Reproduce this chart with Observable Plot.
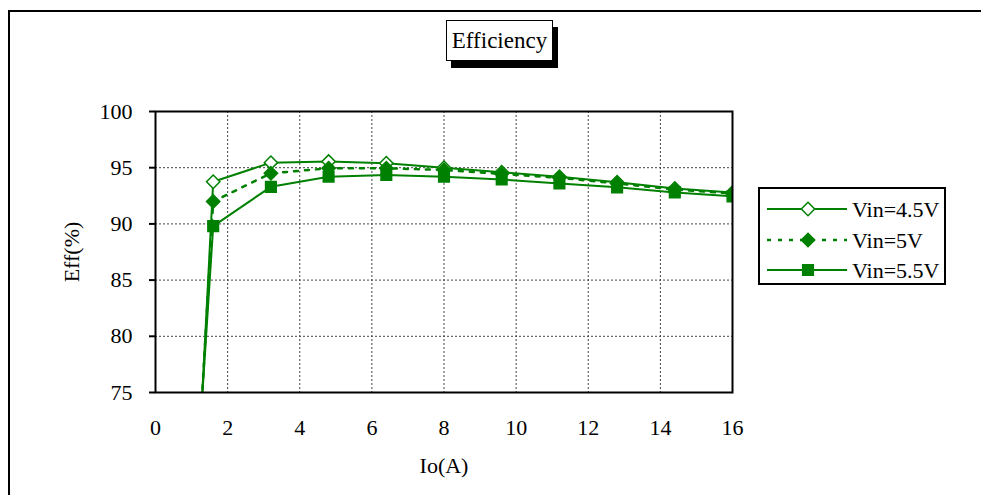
<!DOCTYPE html>
<html><head><meta charset="utf-8">
<script src="https://cdn.jsdelivr.net/npm/d3@7"></script>
<script src="https://cdn.jsdelivr.net/npm/@observablehq/plot@0.6"></script>
<style>
body{margin:0;background:#fff;}
#wrap{position:relative;width:981px;height:495px;overflow:hidden;font-family:"Liberation Serif","DejaVu Serif",serif;}
#border{position:absolute;left:8px;top:10px;width:1100px;height:700px;border:2px solid #000;box-sizing:border-box;}
#chart{position:absolute;left:0;top:0;}
#title{position:absolute;left:446px;top:20px;width:107px;height:41px;box-sizing:border-box;border:1.5px solid #000;background:#fff;box-shadow:5px 7px 0 #000;font-size:23px;text-align:center;line-height:39px;}
#legend{position:absolute;left:758px;top:187px;}
</style></head><body>
<div id="wrap"><div id="border"></div><div id="chart"></div><div id="title">Efficiency</div><svg id="legend" width="188" height="98"></svg></div>
<script>
const ioA = [0.8, 1.6, 3.2, 4.8, 6.4, 8.0, 9.6, 11.2, 12.8, 14.4, 16.0];
const eff45 = [44, 93.75, 95.45, 95.55, 95.4, 95.0, 94.6, 94.2, 93.7, 93.15, 92.8];
const eff50 = [47, 92.0, 94.5, 94.95, 94.95, 94.8, 94.45, 94.1, 93.6, 93.05, 92.7];
const eff55 = [50, 89.8, 93.3, 94.2, 94.35, 94.2, 93.95, 93.6, 93.25, 92.8, 92.45];
const seriesNames = ["Vin=4.5V", "Vin=5V", "Vin=5.5V"];
const xTicks = [0, 2, 4, 6, 8, 10, 12, 14, 16];
const yTicks = [75, 80, 85, 90, 95, 100];

const green = "#008000";
const seriesVals = [eff45, eff50, eff55];
const styles = [
  {dash: null, width: 2, symbol: "diamond2", fill: "#fff"},
  {dash: "4,7", width: 2.5, symbol: "diamond2", fill: green},
  {dash: null, width: 2, symbol: "square", fill: green}
];
const rows = [];
seriesNames.forEach((s, i) => ioA.forEach((x, j) => rows.push({series: s, io: x, eff: seriesVals[i][j]})));

const lineMarks = [];
const dotMarks = [];
seriesNames.forEach((s, i) => {
  const d = rows.filter(r => r.series === s);
  lineMarks.push(Plot.line(d, {x: "io", y: "eff", stroke: green, strokeWidth: styles[i].width, strokeDasharray: styles[i].dash, clip: true}));
  dotMarks.push(Plot.dot(d, {x: "io", y: "eff", symbol: () => styles[i].symbol, r: 6, stroke: green, strokeWidth: 1.5, fill: styles[i].fill, clip: true}));
});

const chart = Plot.plot({
  width: 981, height: 495,
  marginLeft: 155, marginRight: 249, marginTop: 111, marginBottom: 103,
  style: {fontFamily: '"Liberation Serif","DejaVu Serif",serif', fontSize: "22px", color: "#000", background: "transparent", overflow: "visible"},
  x: {domain: [0, 16]},
  y: {domain: [75, 100]},
  marks: [
    Plot.gridX(xTicks, {stroke: "#444", strokeOpacity: 1, strokeDasharray: "2,2"}),
    Plot.gridY(yTicks, {stroke: "#444", strokeOpacity: 1, strokeDasharray: "2,2"}),
    ...lineMarks,
    ...dotMarks,
    Plot.frame({stroke: "#000", strokeWidth: 2}),
    Plot.axisY(yTicks, {tickSize: 6, tickPadding: 17, strokeWidth: 2, fontSize: 22, label: "Eff(%)", labelAnchor: "center", labelArrow: "none", labelOffset: 92}),
    Plot.axisX(xTicks, {tickSize: 0, tickPadding: 27, fontSize: 22, label: "Io(A)", labelAnchor: "center", labelArrow: "none", labelOffset: 80})
  ]
});
document.getElementById("chart").appendChild(chart);

// legend
const lg = d3.select("#legend");
lg.append("rect").attr("x", 1).attr("y", 1).attr("width", 186).attr("height", 96).attr("fill", "#fff").attr("stroke", "#000").attr("stroke-width", 2);
const rowY = [22, 53, 83];
const symMap = {diamond2: d3.symbolDiamond2, square: d3.symbolSquare};
seriesNames.forEach((s, i) => {
  const y = rowY[i];
  lg.append("line").attr("x1", 9).attr("x2", 89).attr("y1", y).attr("y2", y)
    .attr("stroke", green).attr("stroke-width", styles[i].width).attr("stroke-dasharray", styles[i].dash);
  lg.append("path").attr("d", d3.symbol(symMap[styles[i].symbol], Math.PI * 36)())
    .attr("transform", `translate(50,${y})`).attr("fill", styles[i].fill).attr("stroke", green).attr("stroke-width", 1.5);
  lg.append("text").attr("x", 94).attr("y", y).attr("dy", "0.35em").attr("font-size", 22)
    .attr("font-family", '"Liberation Serif","DejaVu Serif",serif').text(s);
});
</script>
</body></html>
